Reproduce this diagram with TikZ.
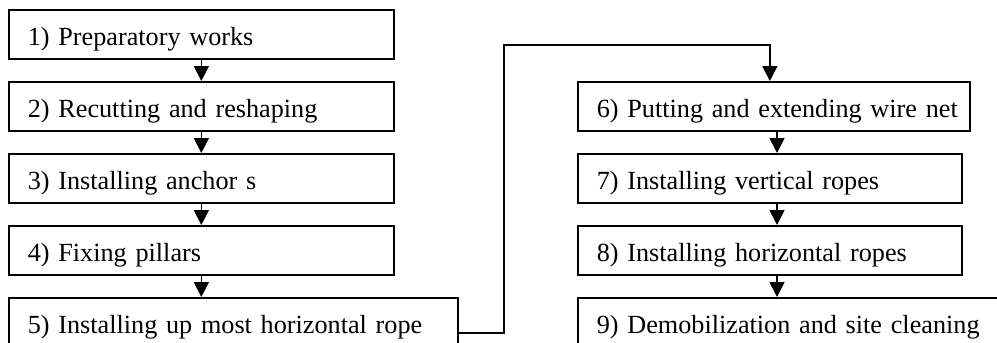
\documentclass[tikz,border=0pt]{standalone}
\usepackage{fontspec}
\setmainfont{Liberation Serif}
\usetikzlibrary{arrows.meta}
\newcommand{\steptext}[1]{\mbox{#1}}
\begin{document}
\begin{tikzpicture}[x=1pt, y=-1pt,
  stepbox/.style={draw, line width=1.7pt, anchor=north west,
    inner xsep=19pt, inner ysep=0pt, minimum height=49pt,
    align=left, text height=23pt, text depth=0pt,
    font=\fontsize{26.2}{30}\selectfont},
  arr/.style={line width=1.7pt, -{Triangle[width=15pt,length=15pt]}}]
  \useasboundingbox (0,0) rectangle (997,343);

  % left column
  \node[stepbox, text width=347pt] (b1) at (8,9)   {\steptext{1) Preparatory works}};
  \node[stepbox, text width=347pt] (b2) at (8,81)  {\steptext{2) Recutting and reshaping}};
  \node[stepbox, text width=347pt] (b3) at (8,153) {\steptext{3) Installing anchor s}};
  \node[stepbox, text width=347pt] (b4) at (8,225) {\steptext{4) Fixing pillars}};
  \node[stepbox, text width=411pt] (b5) at (8,297) {\steptext{5) Installing up most horizontal rope}};

  % right column
  \node[stepbox, text width=354pt] (b6) at (577,81)  {\steptext{6) Putting and extending wire net}};
  \node[stepbox, text width=346pt] (b7) at (577,153) {\steptext{7) Installing vertical ropes}};
  \node[stepbox, text width=346pt] (b8) at (577,225) {\steptext{8) Installing horizontal ropes}};
  \node[stepbox, text width=402pt] (b9) at (577,297) {\steptext{9) Demobilization and site cleaning}};

  % connectors
  \draw[arr] (b1.south) -- (b2.north);
  \draw[arr] (b2.south) -- (b3.north);
  \draw[arr] (b3.south) -- (b4.north);
  \draw[arr] (b4.south -| b1.south) -- (b5.north -| b1.south);

  \coordinate (jog) at (504,45);
  \coordinate (rx) at (777,0);
  \draw[arr] ([yshift=-10.5pt]b5.east) -| (jog) -| ([xshift=-4pt]b6.north);

  \draw[arr] (rx |- b6.south) -- (rx |- b7.north);
  \draw[arr] (rx |- b7.south) -- (rx |- b8.north);
  \draw[arr] (rx |- b8.south) -- (rx |- b9.north);
\end{tikzpicture}
\end{document}
